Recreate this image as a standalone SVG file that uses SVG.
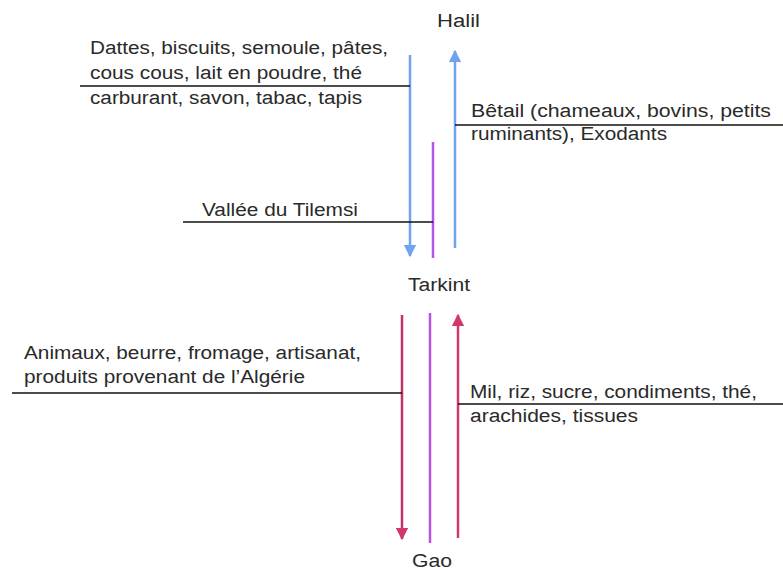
<svg xmlns="http://www.w3.org/2000/svg" width="783" height="570" viewBox="0 0 783 570">
<style>
text{font-family:"Liberation Sans",Arial,sans-serif;font-size:18px;fill:#2a2a2a}
.rule{stroke:#111;stroke-width:1.3;fill:none}
.blue{stroke:#6fa3ef;stroke-width:2.5;fill:none}
.purple{stroke:#b455e6;stroke-width:2.5;fill:none}
.red{stroke:#d2386e;stroke-width:2.5;fill:none}
.red2{stroke:#c0336a;stroke-width:2.5;fill:none}
</style>
<defs>
<marker id="ab" viewBox="0 0 10 10" refX="9" refY="5" markerWidth="5" markerHeight="5" orient="auto" markerUnits="strokeWidth"><path d="M0,0 L10,5 L0,10 z" fill="#6fa3ef"/></marker>
<marker id="ar" viewBox="0 0 10 10" refX="9" refY="5" markerWidth="5" markerHeight="5" orient="auto" markerUnits="strokeWidth"><path d="M0,0 L10,5 L0,10 z" fill="#d2386e"/></marker>
</defs>
<rect width="783" height="570" fill="#fff"/>
<g id="connectors">
<line class="blue" x1="410" y1="55" x2="410" y2="256" marker-end="url(#ab)"/>
<line class="blue" x1="455" y1="248" x2="455" y2="51" marker-end="url(#ab)"/>
<line class="purple" x1="433" y1="142" x2="433" y2="258"/>
<line class="red2" x1="402" y1="315" x2="402" y2="539" marker-end="url(#ar)"/>
<line class="purple" x1="430" y1="313" x2="430" y2="543"/>
<line class="red" x1="458" y1="538" x2="458" y2="315" marker-end="url(#ar)"/>
<line class="rule" x1="80" y1="86" x2="410" y2="86"/>
<line class="rule" x1="455" y1="125" x2="783" y2="125"/>
<line class="rule" x1="183" y1="222" x2="433" y2="222"/>
<line class="rule" x1="12" y1="393" x2="402" y2="393"/>
<line class="rule" x1="458" y1="404" x2="783" y2="404"/>
</g>
<g id="halil"><text x="437" y="27" textLength="43" lengthAdjust="spacingAndGlyphs">Halil</text></g>
<g id="tarkint"><text x="408" y="291" textLength="62" lengthAdjust="spacingAndGlyphs">Tarkint</text></g>
<g id="gao"><text x="412" y="567" textLength="40" lengthAdjust="spacingAndGlyphs">Gao</text></g>
<g id="label-nord-sud">
<text x="90" y="54" textLength="298" lengthAdjust="spacingAndGlyphs">Dattes, biscuits, semoule, pâtes,</text>
<text x="90" y="79" textLength="272" lengthAdjust="spacingAndGlyphs">cous cous, lait en poudre, thé</text>
<text x="90" y="104" textLength="272" lengthAdjust="spacingAndGlyphs">carburant, savon, tabac, tapis</text>
</g>
<g id="label-sud-nord">
<text x="471" y="117" textLength="300" lengthAdjust="spacingAndGlyphs">Bêtail (chameaux, bovins, petits</text>
<text x="471" y="140" textLength="196" lengthAdjust="spacingAndGlyphs">ruminants), Exodants</text>
</g>
<g id="label-tilemsi"><text x="202" y="216" textLength="156" lengthAdjust="spacingAndGlyphs">Vallée du Tilemsi</text></g>
<g id="label-tarkint-gao">
<text x="24" y="359" textLength="337" lengthAdjust="spacingAndGlyphs">Animaux, beurre, fromage, artisanat,</text>
<text x="24" y="383" textLength="281" lengthAdjust="spacingAndGlyphs">produits provenant de l’Algérie</text>
</g>
<g id="label-gao-tarkint">
<text x="470" y="398" textLength="287" lengthAdjust="spacingAndGlyphs">Mil, riz, sucre, condiments, thé,</text>
<text x="470" y="422" textLength="168" lengthAdjust="spacingAndGlyphs">arachides, tissues</text>
</g>
</svg>
